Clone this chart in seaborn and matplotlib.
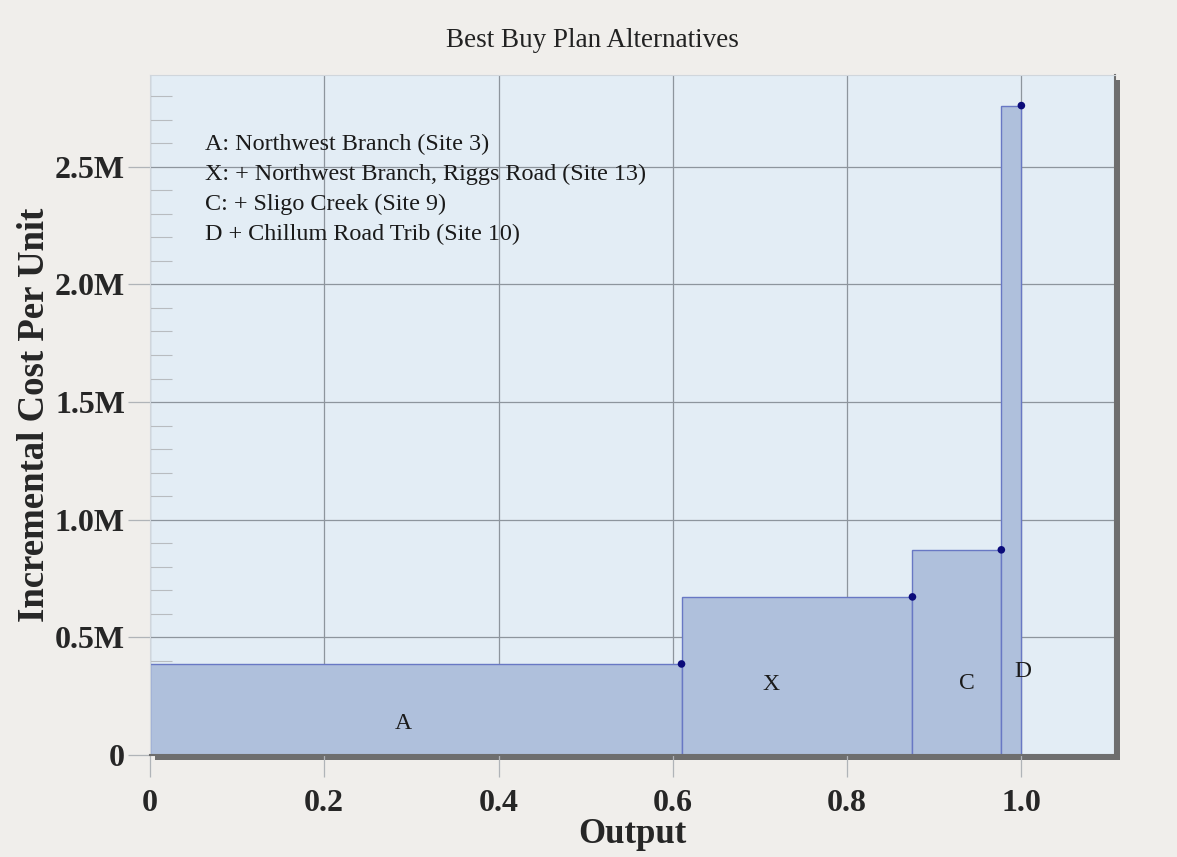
import numpy as np
import matplotlib
matplotlib.use("Agg")
import matplotlib.pyplot as plt
from matplotlib.ticker import FuncFormatter, MultipleLocator
from matplotlib.patches import Rectangle
import seaborn as sns

# cumulative output at the end of each best buy plan, and its incremental cost per unit
plan_labels = ["A", "X", "C", "D"]
output = [0.61, 0.875, 0.977, 1.0]
cost_per_unit = [387000, 672000, 872000, 2760000]
# where the single-letter labels sit (output, cost)
label_x = [0.291, 0.713, 0.938, 1.002]
label_y = [136000, 298000, 306000, 353000]
legend_lines = [
    "A: Northwest Branch (Site 3)",
    "X: + Northwest Branch, Riggs Road (Site 13)",
    "C: + Sligo Creek (Site 9)",
    "D + Chillum Road Trib (Site 10)",
]
x_ticks = [0, 0.2, 0.4, 0.6, 0.8, 1.0]
x_tick_labels = ["0", "0.2", "0.4", "0.6", "0.8", "1.0"]

sns.set_theme(style="whitegrid")
plt.rcParams["font.family"] = ["Liberation Serif", "DejaVu Serif"]

fig_bg = "#f0eeeb"
fig = plt.figure(figsize=(11.77, 8.57), dpi=100, facecolor=fig_bg)
ax = fig.add_axes([0.1274, 0.119, 0.8196, 0.7935])
ax.set_facecolor("#e3edf5")

# drop shadow behind the plot box
shadow = Rectangle((0.1274 + 5 / 1177, 0.119 - 5 / 857), 0.8196, 0.7935,
                   transform=fig.transFigure, facecolor="#6e6e6e",
                   edgecolor="none", zorder=-1)
fig.patches.append(shadow)

# bars with variable width: one histogram bin per plan
edges = [0.0] + output
mids = [(edges[i] + edges[i + 1]) / 2 for i in range(len(output))]
sns.histplot(x=mids, weights=cost_per_unit, bins=edges, stat="count", ax=ax,
             color="#afc0dc", alpha=1, edgecolor="#6878c4", linewidth=1.0,
             zorder=2)
sns.scatterplot(x=output, y=cost_per_unit, ax=ax, color="#0b0b7a", s=30,
                edgecolor="none", zorder=5)

for lab, lx, ly in zip(plan_labels, label_x, label_y):
    ax.text(lx, ly, lab, ha="center", va="center", fontsize=17, color="#1a1a1a",
            zorder=6)

for i, line in enumerate(legend_lines):
    ax.text(0.063, 2.594e6 - i * 0.127e6, line, ha="left", va="center",
            fontsize=17.4, color="#1a1a1a", zorder=6)

ax.set_xlim(0, 1.107)
ax.set_ylim(0, 2.89e6)
ax.set_xticks(x_ticks)
ax.set_xticklabels(x_tick_labels)
ax.yaxis.set_major_locator(MultipleLocator(500000))
ax.yaxis.set_minor_locator(MultipleLocator(100000))
ax.yaxis.set_major_formatter(FuncFormatter(lambda v, p: "0" if v == 0 else f"{v / 1e6:.1f}M"))

ax.grid(True, which="major", color="#8d959d", linewidth=0.9, zorder=0)
ax.set_axisbelow(True)
ax.tick_params(axis="both", which="major", bottom=True, left=True,
               labelsize=23, length=16, width=0.9,
               color="#b0b4b8", direction="out")
ax.tick_params(axis="y", which="major", pad=2)
ax.tick_params(axis="x", which="major", pad=8.5)
ax.tick_params(axis="y", which="minor", left=True, length=16, width=0.8,
               color="#b8bcc0", direction="in")
for lab in ax.get_xticklabels() + ax.get_yticklabels():
    lab.set_fontweight("bold")

ax.set_xlabel("Output", fontsize=25, fontweight="bold", labelpad=0)
ax.set_ylabel("Incremental Cost Per Unit", fontsize=26.5, fontweight="bold",
              labelpad=2)
fig.text(0.503, 0.953, "Best Buy Plan Alternatives", ha="center", va="center",
         fontsize=19.5, color="#222222")

for side in ["top", "left"]:
    ax.spines[side].set_color("#d0d6dc")
    ax.spines[side].set_linewidth(0.8)
for side in ["right", "bottom"]:
    ax.spines[side].set_color("#6e6e6e")
    ax.spines[side].set_linewidth(1.5)

fig.savefig("out.png", dpi=100, facecolor=fig_bg)
